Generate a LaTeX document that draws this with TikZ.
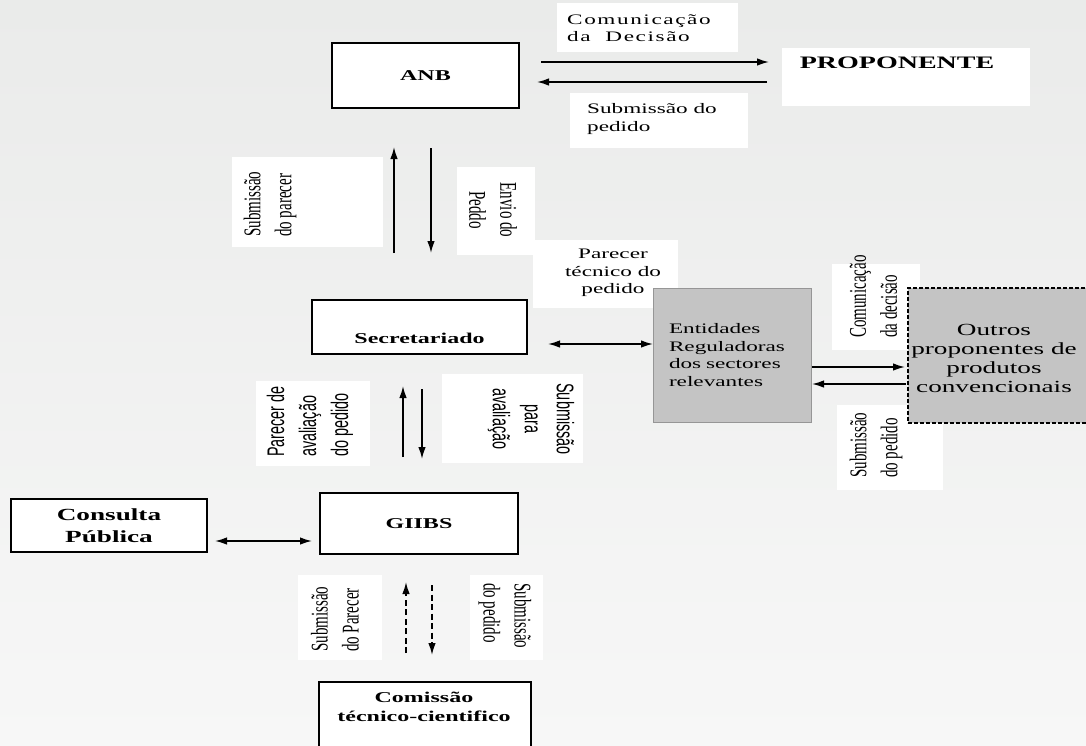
\documentclass[tikz,border=0pt]{standalone}
\usepackage{fontspec}
\setmainfont{Liberation Serif}[FakeStretch=1.6]
\newfontfamily\rotserif{Liberation Serif}[FakeStretch=0.625]
\newfontfamily\rotsans{Liberation Sans}[FakeStretch=0.6]
\usetikzlibrary{arrows.meta}

\definecolor{bgtop}{RGB}{234,235,234}
\definecolor{bgbot}{RGB}{247,247,247}
\definecolor{boxgray}{RGB}{196,196,196}
\definecolor{edgegray}{RGB}{150,150,150}

\tikzset{
  box/.style={draw, line width=1.4pt, fill=white, inner sep=0pt},
  btext/.style={font=\bfseries\fontsize{15}{19}\selectfont, inner sep=0pt},
  ltext/.style={font=\fontsize{14.5}{17.5}\selectfont, inner sep=0pt},
  vtext/.style={font=\rotserif\fontsize{24}{31}\selectfont, inner sep=0pt},
  vsans/.style={font=\rotsans\fontsize{24}{32}\selectfont, inner sep=0pt},
  arr/.style={line width=1.5pt, -{Latex[length=12pt,width=7.5pt]}},
  darr/.style={line width=1.5pt, {Latex[length=12pt,width=7.5pt]}-{Latex[length=12pt,width=7.5pt]}},
}

\begin{document}
\begin{tikzpicture}[x=1pt,y=-1pt]
  \useasboundingbox (0,0) rectangle (1086,745);
  \clip (0,0) rectangle (1086,745);
  \shade[top color=bgtop, bottom color=bgbot] (0,0) rectangle (1086,745);

  % white label backgrounds
  \fill[white] (557,3) rectangle (738,52);
  \fill[white] (570,93) rectangle (748,148);
  \fill[white] (782,48) rectangle (1030,106);
  \fill[white] (232,157) rectangle (383,247);
  \fill[white] (457,167) rectangle (535,255);
  \fill[white] (533,240) rectangle (678,308);
  \fill[white] (832,264) rectangle (920,350);
  \fill[white] (837,405) rectangle (943,490);
  \fill[white] (256,381) rectangle (370,466);
  \fill[white] (442,374) rectangle (583,463);
  \fill[white] (298,575) rectangle (382,660);
  \fill[white] (470,575) rectangle (543,660);

  % boxes
  \node[box, btext, minimum width=187pt, minimum height=65pt] (anb) at (425.5,75.5) {ANB};
  \node[box, btext, minimum width=215pt, minimum height=54pt] (secr) at (419.5,327) {\raisebox{-16pt}[0pt][0pt]{Secretariado}};
  \node[box, btext, minimum width=198pt, minimum height=61pt] (giibs) at (419,523.5) {GIIBS};
  \node[box, btext, font=\bfseries\fontsize{17}{22}\selectfont, align=center,
        minimum width=196pt, minimum height=53pt] (consulta) at (109,525.3) {Consulta\\Pública};
  \node[box, minimum width=212pt, minimum height=88pt] (comissao) at (425,726) {};
  \node[draw=edgegray, line width=1pt, fill=boxgray, ltext, minimum width=158pt, minimum height=134pt,
        text width=126pt, inner xsep=16pt, align=left] (entid) at (732,355)
        {Entidades\\Reguladoras\\dos sectores\\relevantes};
  \node[draw, dash pattern=on 4pt off 2pt, line width=1.4pt, fill=boxgray,
        minimum width=240pt, minimum height=135pt] (outros) at (1028,355.5) {};

  % texts
  \node[btext, font=\bfseries\fontsize{17.5}{20}\selectfont] (proptext) at (897,63) {PROPONENTE};
  \node[btext, align=center] (comtext) at (424,706.5) {Comissão\\técnico-cientifico};
  \node[ltext, align=center, font=\fontsize{17}{19}\selectfont] (outrostext) at (994,358)
        {Outros\\proponentes de\\produtos\\convencionais};
  \node[ltext, align=left, anchor=west, font=\fontsize{14.5}{17}\selectfont\addfontfeature{LetterSpace=11}]
        (comdecA) at (567,28.5) {Comunicação\\da\ \ Decisão};
  \node[ltext, align=left, anchor=west] (subpedA) at (587,119) {Submissão do\\pedido};
  \node[ltext, align=center] (partec) at (613,273) {Parecer\\técnico do\\pedido};
  \node[vtext, rotate=90, align=left, anchor=west] (subparA) at (270,237) {Submissão\\do parecer};
  \node[vtext, rotate=-90, align=center] (envio) at (493,210) {Envio do\\Peddo};
  \node[vtext, rotate=90, align=left, anchor=west] (comdecB) at (873.5,338) {Comunicação\\da decisão};
  \node[vtext, rotate=90, align=left, anchor=west] (subpedB) at (876,478) {Submissão\\do pedido};
  \node[vsans, rotate=90, align=left, anchor=west] (paraval) at (310,457) {Parecer de\\avaliação\\do pedido};
  \node[vsans, rotate=-90, align=center] (subaval) at (531,419) {Submissão\\para\\avaliação};
  \node[vtext, rotate=90, align=left, anchor=west] (subparC) at (335,652) {Submissão\\do Parecer};
  \node[vtext, rotate=-90, align=left, anchor=west] (subpedC) at (505,583) {Submissão\\do pedido};

  % arrow ends
  \coordinate (anbR1) at (541,62);  \coordinate (propL1) at (769,62);
  \coordinate (propL2) at (767,82); \coordinate (anbR2) at (537,82);
  \coordinate (secrT1) at (394,253); \coordinate (anbB1) at (394,147);
  \coordinate (anbB2) at (431,148); \coordinate (secrT2) at (431,253);
  \coordinate (secrR) at (548,344); \coordinate (entidL) at (653,344);
  \coordinate (entidR1) at (812,367); \coordinate (outrosL1) at (905,367);
  \coordinate (outrosL2) at (906,384); \coordinate (entidR2) at (812,384);
  \coordinate (giibsT1) at (403,457); \coordinate (secrB1) at (403,386);
  \coordinate (secrB2) at (422,389); \coordinate (giibsT2) at (422,459);
  \coordinate (consR) at (215,541); \coordinate (giibsL) at (312,541);
  \coordinate (comT1) at (406,653); \coordinate (giibsB1) at (406,582);
  \coordinate (giibsB2) at (432,585); \coordinate (comT2) at (432,655);

  % connectors
  \draw[arr] (anbR1) -- (propL1);
  \draw[arr] (propL2) -- (anbR2);
  \draw[arr] (secrT1) -- (anbB1);
  \draw[arr] (anbB2) -- (secrT2);
  \draw[darr] (secrR) -- (entidL);
  \draw[arr] (entidR1) -- (outrosL1);
  \draw[arr] (outrosL2) -- (entidR2);
  \draw[arr] (giibsT1) -- (secrB1);
  \draw[arr] (secrB2) -- (giibsT2);
  \draw[darr] (consR) -- (giibsL);
  \draw[arr, dash pattern=on 6pt off 3.5pt] (comT1) -- (giibsB1);
  \draw[arr, dash pattern=on 6pt off 3.5pt] (giibsB2) -- (comT2);
\end{tikzpicture}
\end{document}
